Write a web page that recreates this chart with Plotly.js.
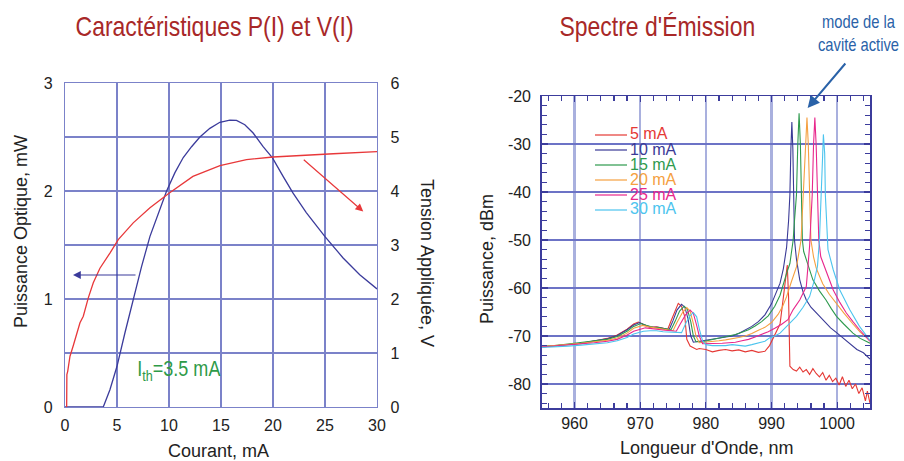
<!DOCTYPE html>
<html><head><meta charset="utf-8">
<script src="https://cdn.plot.ly/plotly-3.0.1.min.js"></script>
<style>html,body{margin:0;padding:0;background:#fff;}#g{width:904px;height:461px;}
.narrow-txt{transform-box:fill-box;transform-origin:center;transform:scaleX(0.82);}</style>
</head><body><div id="g"></div>
<script>
// ---- Caractéristiques P(I) et V(I) ----
const courantP = [0, 3.68, 4.32, 5.0, 5.76, 6.56, 7.36, 8.17, 8.97, 9.77, 10.57, 11.37, 12.17, 12.97, 13.93, 14.89, 15.85, 16.49, 17.29, 18.09, 19.05, 19.95, 20.97, 21.93, 23.2, 24.98, 26.74, 28.34, 30];
const puissanceOpt = [0, 0, 0.16, 0.377, 0.685, 0.994, 1.30, 1.58, 1.80, 2.00, 2.17, 2.31, 2.41, 2.50, 2.58, 2.636, 2.657, 2.654, 2.614, 2.537, 2.41, 2.306, 2.136, 1.98, 1.80, 1.58, 1.38, 1.225, 1.093];
const courantV = [0.16, 0.18, 0.26, 0.48, 0.8, 1.12, 1.44, 1.76, 2.24, 2.72, 3.36, 4.32, 5.12, 6.56, 8.17, 10.0, 12.3, 14.9, 17.45, 20.0, 22.6, 25.8, 30];
const tension = [0, 0.6, 0.66, 0.94, 1.14, 1.37, 1.56, 1.68, 2.02, 2.30, 2.57, 2.85, 3.10, 3.41, 3.69, 3.96, 4.27, 4.47, 4.58, 4.63, 4.66, 4.69, 4.73];

// ---- Spectre d'Émission ----
const courants = ['5 mA', '10 mA', '15 mA', '20 mA', '25 mA', '30 mA'];
const wl5 = [955, 957, 959, 961, 963, 965, 966.5, 968, 969, 969.7, 970.5, 971.5, 972.5, 973.5, 974.2, 974.8, 975.3, 975.8, 976.3, 976.8, 977.1, 977.6, 978.6, 979, 980, 981, 982, 983, 984, 985, 986, 987, 988, 989, 989.7, 990.3, 990.8, 991.3, 991.8, 992.1, 992.4, 992.6, 992.8, 993.3, 993.8, 994.3, 994.8, 995.3, 995.8, 996.3, 996.8, 997.3, 997.8, 998.3, 998.8, 999.3, 999.8, 1000.3, 1000.8, 1001.3, 1001.8, 1002.3, 1002.8, 1003.3, 1003.8, 1004.3, 1004.6, 1005];
const pw5 = [-72.3, -72.0, -71.8, -71.6, -71.0, -70.5, -69.8, -68.6, -67.5, -67.1, -67.6, -68.2, -68.1, -68.4, -68.6, -66.5, -64.8, -63.2, -63.8, -66.0, -70.7, -72.1, -72.8, -72.6, -72.8, -73.3, -73.0, -72.8, -73.1, -72.9, -73.3, -73.0, -73.4, -73.2, -72.0, -70.2, -69.0, -67.5, -62.0, -58.0, -55.2, -62.0, -76.3, -77.0, -77.3, -76.5, -77.5, -77.0, -78.0, -76.8, -77.8, -78.5, -77.6, -79.2, -78.2, -79.5, -78.8, -80.2, -78.5, -80.5, -79.2, -81.0, -80.0, -82.0, -80.8, -83.5, -81.5, -84.0];
const wl10 = [955, 957, 959, 961, 963, 965, 966.5, 968, 969, 969.9, 970.7, 971.7, 972.7, 973.7, 974.4, 975.0, 975.6, 976.3, 976.8, 977.3, 977.7, 978.1, 979, 980, 981, 982, 983, 984, 985, 986, 987, 988, 989, 990, 990.7, 991.3, 991.8, 992.3, 992.6, 992.8, 992.95, 993.1, 993.25, 993.4, 993.5, 993.8, 994.3, 994.8, 995.3, 996, 997, 998, 999, 1000, 1001, 1002, 1003, 1004, 1005];
const pw10 = [-72.3, -72.0, -71.8, -71.5, -71.0, -70.6, -69.9, -68.7, -67.7, -67.2, -67.7, -68.2, -68.2, -68.5, -68.7, -66.8, -64.6, -63.4, -64.0, -66.5, -70.0, -71.3, -71.1, -71.0, -70.8, -70.5, -70.3, -70.0, -69.5, -68.8, -68.0, -67.0, -65.6, -63.3, -61.0, -59.0, -56.0, -51.5, -46.0, -40.6, -31.0, -25.4, -31.0, -40.6, -50.0, -54.0, -58.3, -60.8, -62.5, -64.0, -65.5, -67.0, -68.3, -69.4, -70.6, -71.6, -72.8, -73.5, -74.8];
const wl15 = [955, 957, 959, 961, 963, 965, 966.5, 968, 969, 970.1, 971, 972, 973, 974, 974.7, 975.3, 976.0, 976.7, 977.2, 977.7, 978.1, 978.5, 979.5, 980.5, 981.5, 982.5, 983.5, 984.5, 985.5, 986.5, 987.5, 988.5, 989.5, 990.5, 991.3, 991.8, 992.4, 992.8, 993.3, 993.5, 993.8, 994.0, 994.2, 994.4, 994.5, 994.7, 994.9, 995.3, 995.8, 996.3, 997.3, 998.3, 999.1, 999.9, 1001, 1002.4, 1003.5, 1005];
const pw15 = [-72.1, -72.0, -71.7, -71.4, -71.0, -70.7, -70.1, -69.0, -68.0, -67.4, -67.8, -68.2, -68.3, -68.6, -68.7, -67.0, -64.8, -63.8, -64.5, -67.0, -70.0, -71.2, -71.2, -70.9, -70.6, -70.3, -70.1, -69.7, -69.2, -68.7, -67.9, -67.0, -65.8, -63.8, -61.5, -59.0, -56.5, -54.9, -50.0, -46.0, -40.6, -30.2, -23.6, -30.2, -40.6, -50.0, -52.4, -54.1, -56.5, -58.3, -60.6, -62.5, -64.3, -65.9, -67.5, -69.4, -70.5, -71.5];
const wl20 = [955, 957, 959, 961, 963, 965, 966.5, 968, 969, 970.4, 971.3, 972.3, 973.3, 974.3, 975, 975.6, 976.4, 977.1, 977.6, 978.1, 978.5, 979, 980, 981, 982, 983, 984, 985, 986, 987, 988, 989, 990, 991, 991.7, 992.3, 993, 993.8, 994.5, 994.8, 995.0, 995.2, 995.4, 995.6, 995.8, 996.0, 996.4, 996.8, 997.3, 997.8, 998.8, 999.9, 1001, 1002.4, 1003.5, 1005];
const pw20 = [-72.2, -72.0, -71.8, -71.5, -71.2, -70.9, -70.4, -69.4, -68.4, -67.8, -68.1, -68.3, -68.5, -68.7, -68.9, -67.2, -65.2, -64.1, -64.8, -67.4, -70.0, -71.4, -71.3, -71.1, -71.0, -70.8, -70.6, -70.3, -70.0, -69.5, -68.8, -68.2, -67.2, -65.5, -63.8, -61.8, -58.8, -55.6, -50.0, -42.0, -35.0, -29.0, -24.5, -30.0, -40.0, -50.0, -53.5, -55.8, -57.5, -59.1, -61.3, -63.3, -65.2, -67.5, -69.2, -70.9];
const wl25 = [955, 957, 959, 961, 963, 965, 966.5, 968, 969, 970.8, 971.8, 972.8, 973.8, 974.8, 975.5, 976.1, 976.9, 977.6, 978.1, 978.6, 979.0, 979.5, 980.5, 981.5, 982.5, 983.5, 984.5, 985.5, 986.5, 987.5, 988.5, 989.5, 990.5, 991.5, 992.5, 993.3, 994.3, 995.3, 995.8, 996.0, 996.2, 996.4, 996.6, 996.8, 997.0, 997.2, 997.5, 998.1, 998.8, 999.4, 1000.4, 1001.4, 1002.4, 1003.4, 1005];
const pw25 = [-72.3, -72.1, -71.9, -71.6, -71.4, -71.1, -70.7, -69.8, -69.0, -68.3, -68.5, -68.6, -68.8, -68.9, -69.0, -67.5, -65.6, -64.6, -65.3, -67.8, -70.0, -71.6, -71.6, -71.5, -71.5, -71.4, -71.3, -71.0, -70.7, -70.2, -69.7, -69.1, -68.4, -67.6, -66.6, -64.5, -62.5, -59.7, -51.3, -45.0, -40.6, -30.2, -24.5, -30.2, -40.6, -50.0, -53.5, -55.6, -58.3, -60.4, -63.0, -65.2, -67.0, -68.7, -71.1];
const wl30 = [955, 957, 959, 961, 963, 965, 966.5, 968, 969, 970.5, 971.5, 972.5, 973.5, 974.5, 975.5, 976.3, 977.0, 977.6, 978.1, 978.6, 979.0, 979.5, 980, 981, 982, 983, 984, 985, 986, 987, 988, 989, 989.7, 990.5, 991.3, 992.5, 993.8, 994.8, 995.8, 996.5, 997.0, 997.3, 997.5, 997.6, 997.8, 997.9, 998.1, 998.2, 998.5, 998.6, 999.4, 1000.4, 1001.9, 1003.4, 1005];
const pw30 = [-72.4, -72.3, -72.1, -71.9, -71.6, -71.4, -71.0, -70.3, -69.6, -69.0, -68.9, -68.9, -69.1, -69.2, -69.3, -69.3, -67.2, -65.8, -65.1, -66.0, -68.5, -71.0, -71.8, -72.0, -72.0, -72.0, -71.8, -72.0, -72.1, -71.8, -71.5, -71.1, -70.4, -70.0, -69.4, -67.8, -65.9, -64.0, -61.8, -58.5, -55.5, -50.0, -44.0, -40.6, -32.0, -28.0, -32.0, -40.6, -50.0, -52.0, -56.2, -60.4, -64.5, -68.0, -70.9];
const xTicksL = [0, 5, 10, 15, 20, 25, 30];
const yTicksDbm = [-80, -70, -60, -50, -40, -30, -20];
const yTicksDbmText = ['-80', '-70', '-60', '-50', '-40', '-30', '-20'];

const couleurs = ['#e53935', '#3a3a96', '#2e9a4e', '#f5a040', '#e8278c', '#4cc4ee'];
const wls = [wl5, wl10, wl15, wl20, wl25, wl30];
const pws = [pw5, pw10, pw15, pw20, pw25, pw30];

const W = 904, H = 461;
const px = v => v / W, py = v => 1 - v / H;
const SANS = 'Liberation Sans, Arial, sans-serif';

const traces = [
  {x: courantP, y: puissanceOpt, xaxis: 'x', yaxis: 'y', mode: 'lines', line: {color: '#3b3b9b', width: 1.3}, showlegend: false},
  {x: courantV, y: tension, xaxis: 'x', yaxis: 'y2', mode: 'lines', line: {color: '#e8383a', width: 1.3}, showlegend: false}
];
courants.forEach((c, i) => {
  traces.push({x: wls[i], y: pws[i], name: c, xaxis: 'x2', yaxis: 'y3', mode: 'lines',
    line: {color: couleurs[i], width: 1.1}, showlegend: false});
});

const gridL = '#7b82c9';
const frameR = '#3c3c9c';
const tickFont = {family: SANS, size: 16, color: '#222'};
const titleFont = {family: SANS, size: 18, color: '#222'};
const P = {xref: 'paper', yref: 'paper', showarrow: false, xanchor: 'center', yanchor: 'middle'};

const narrowIdx = [0, 1, 2, 3];
const annotations = [
  Object.assign({text: 'Caractéristiques P(I) et V(I)', x: px(214), y: py(27), font: {family: SANS, size: 28, color: '#a82828'}}, P),
  Object.assign({text: "Spectre d'Émission", x: px(657), y: py(27), font: {family: SANS, size: 28, color: '#a82828'}}, P),
  Object.assign({text: 'mode de la<br>cavité active', x: px(858), y: py(33), font: {family: SANS, size: 18, color: '#2a62a8'}}, P),
  Object.assign({text: 'I<sub>th</sub>=3.5 mA', x: px(179), y: py(370), font: {family: SANS, size: 22, color: '#2e9a48'}}, P),
  Object.assign({text: 'Courant, mA', x: px(218), y: py(451), font: titleFont}, P),
  Object.assign({text: 'Puissance Optique, mW', x: px(21), y: py(232), textangle: -90, font: titleFont}, P),
  Object.assign({text: 'Tension Appliquée, V', x: px(427), y: py(263), textangle: 90, font: titleFont}, P),
  Object.assign({text: 'Puissance, dBm', x: px(487), y: py(259), textangle: -90, font: titleFont}, P),
  Object.assign({text: "Longueur d'Onde, nm", x: px(707), y: py(448), font: titleFont}, P),
  {text: '', x: 0.77, y: 1.222, xref: 'x', yref: 'y', ax: 64, ay: 0, showarrow: true, arrowhead: 2, arrowsize: 1.3, arrowwidth: 1.2, arrowcolor: '#3b3b9b'},
  {text: '', x: 28.68, y: 3.62, xref: 'x', yref: 'y2', ax: -61, ay: -53, showarrow: true, arrowhead: 2, arrowsize: 1.3, arrowwidth: 1.2, arrowcolor: '#e8383a'},
  {text: '', x: 995.5, y: -22.5, xref: 'x2', yref: 'y3', ax: 39, ay: -46, showarrow: true, arrowhead: 2, arrowsize: 1.2, arrowwidth: 2, arrowcolor: '#2a62a8'}
];
const shapes = [];
const rowsY = [134, 149, 164, 179, 194, 209];
courants.forEach((c, i) => {
  shapes.push({type: 'line', xref: 'paper', yref: 'paper', x0: px(595), x1: px(627), y0: py(rowsY[i] + 1), y1: py(rowsY[i] + 1), line: {color: couleurs[i], width: 1.2}});
  annotations.push({text: c, x: px(629), y: py(rowsY[i]), xref: 'paper', yref: 'paper', xanchor: 'left', yanchor: 'middle', showarrow: false, borderpad: 0, font: {family: SANS, size: 16, color: couleurs[i]}});
});

const layout = {
  width: W, height: H, margin: {l: 0, r: 0, t: 0, b: 0}, paper_bgcolor: '#fff', plot_bgcolor: '#fff',
  showlegend: false,
  xaxis: {domain: [px(65), px(377)], range: [0, 30], tickvals: xTicksL, showgrid: true, gridcolor: gridL, gridwidth: 1.2,
    showline: true, linecolor: gridL, linewidth: 1.2, mirror: true, zeroline: false, ticks: '', tickfont: tickFont, ticklabelstandoff: 4, anchor: 'y'},
  yaxis: {domain: [py(407), py(83)], range: [0, 3], dtick: 1, showgrid: true, gridcolor: gridL, gridwidth: 1.2,
    showline: true, linecolor: gridL, linewidth: 1.2, zeroline: false, ticks: '', tickfont: tickFont, ticklabelstandoff: 8, anchor: 'x'},
  yaxis2: {overlaying: 'y', side: 'right', range: [0, 6], dtick: 1, showgrid: true, gridcolor: gridL, gridwidth: 1.2,
    showline: true, linecolor: gridL, linewidth: 1.2, zeroline: false, ticks: '', tickfont: tickFont, ticklabelstandoff: 9, anchor: 'x'},
  xaxis2: {domain: [px(541.7), px(870)], range: [955, 1005], dtick: 10, tick0: 960, showgrid: true, gridcolor: '#a9b0de', gridwidth: 2.5,
    showline: true, linecolor: frameR, linewidth: 1.5, mirror: 'allticks', zeroline: false, ticks: 'inside', ticklen: 6, tickcolor: frameR, tickwidth: 1.2,
    minor: {dtick: 2, tick0: 960, ticks: 'inside', ticklen: 5, tickcolor: frameR, tickwidth: 1.2, showgrid: false},
    tickfont: tickFont, ticklabelstandoff: 0, anchor: 'y3'},
  yaxis3: {domain: [py(408), py(96)], range: [-85, -20], tickvals: yTicksDbm, ticktext: yTicksDbmText, showgrid: true, gridcolor: '#6c73c6', gridwidth: 1.2,
    showline: true, linecolor: frameR, linewidth: 1.5, mirror: 'allticks', zeroline: false, ticks: 'inside', ticklen: 6, tickcolor: frameR, tickwidth: 1.2,
    minor: {dtick: 2, tick0: -80, ticks: 'inside', ticklen: 5, tickcolor: frameR, tickwidth: 1.2, showgrid: false},
    tickfont: tickFont, ticklabelstandoff: 6, anchor: 'x2'},
  annotations: annotations, shapes: shapes
};
Plotly.newPlot('g', traces, layout, {staticPlot: true, displayModeBar: false}).then(() => {
  narrowIdx.forEach(i => {
    const t = document.querySelector('.annotation[data-index="' + i + '"] text.annotation-text');
    if (t) t.classList.add('narrow-txt');
  });
});
</script></body></html>
